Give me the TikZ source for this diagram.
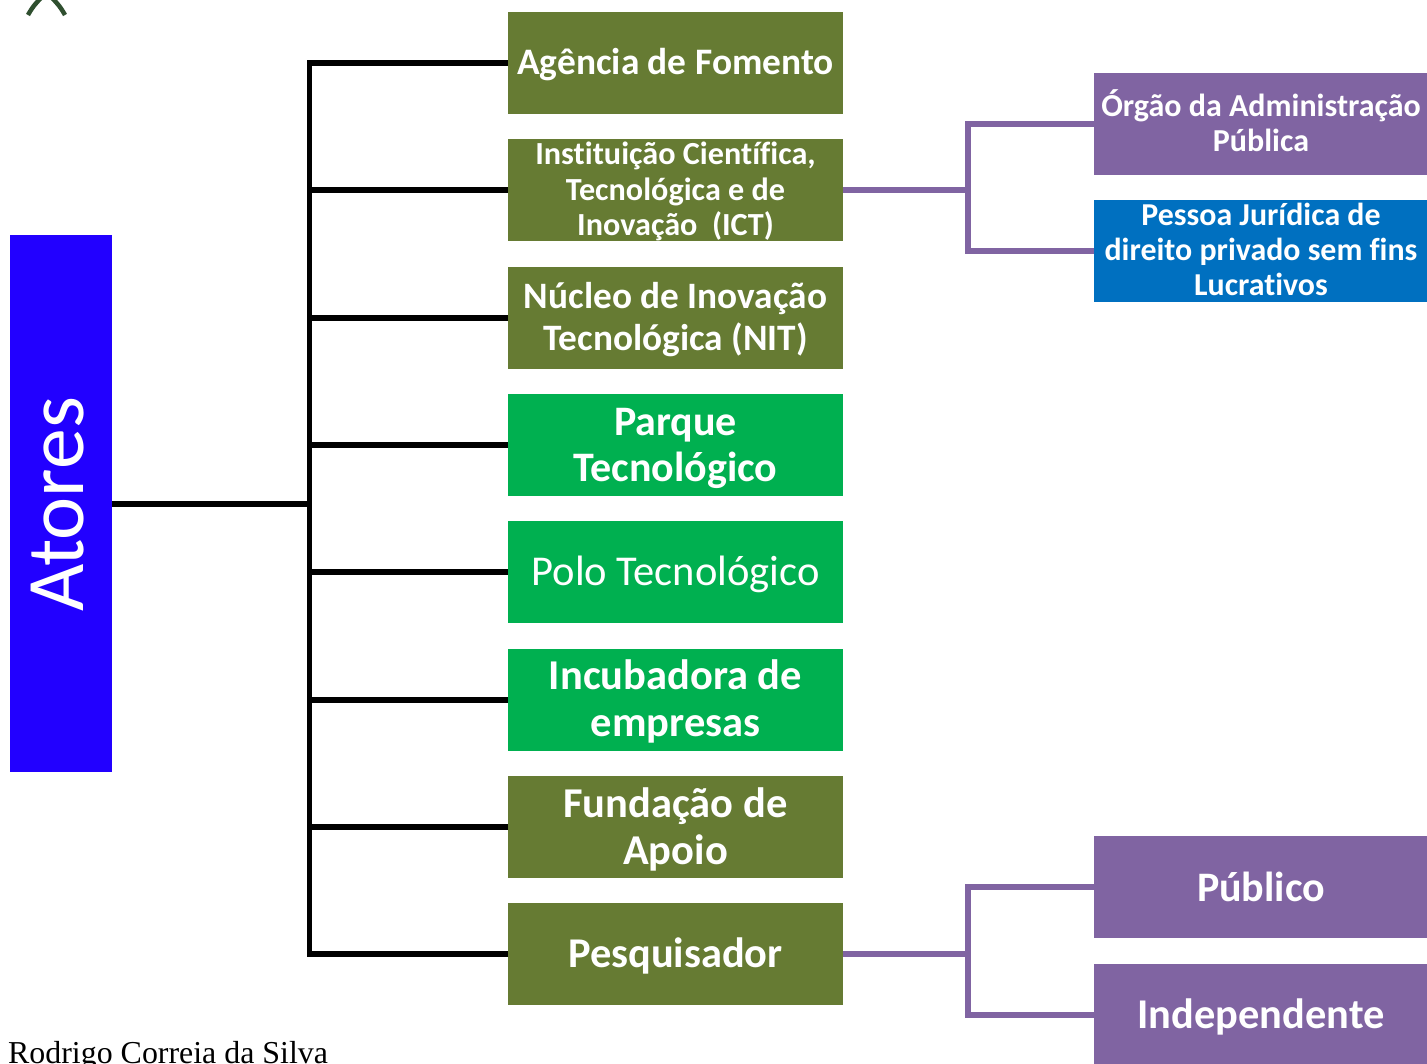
\documentclass[tikz,border=0pt]{standalone}
\usepackage{fontspec}
\setmainfont[Ligatures=NoCommon]{Carlito}
\newfontfamily\serifrm{Liberation Serif}
\definecolor{olivebox}{HTML}{667B33}
\definecolor{greenbox}{HTML}{00B050}
\definecolor{purplebox}{HTML}{8064A2}
\definecolor{bluebox}{HTML}{0070C0}
\definecolor{rootblue}{HTML}{2200FF}
\definecolor{logogreen}{HTML}{2F4F2F}
\newcommand{\fsz}[2]{\fontsize{#1pt}{#2pt}\selectfont}
% move a node's text down by #1: taller first line
\newcommand{\lowered}[2]{\setbox0\hbox{#2}\rule{0pt}{\dimexpr\ht0+#1pt*2\relax}#2}
% move a node's text up by #1: deeper last line
\newcommand{\raised}[2]{\setbox0\hbox{#2}\rule[-\dimexpr\dp0+#1pt*2\relax]{0pt}{1pt}#2}
\tikzset{
  x=1pt,y=-1pt,
  box/.style={inner sep=0pt,outer sep=0pt,text=white,align=center,minimum height=102pt},
  leftbox/.style={box,minimum width=335pt},
  rightbox/.style={box,minimum width=334pt},
  blackline/.style={line width=5.5pt,black},
  purpleline/.style={line width=5.5pt,purplebox},
}
\begin{document}
\begin{tikzpicture}
\path[use as bounding box,clip] (0,0) rectangle (1427,1063);
\fill[white] (0,0) rectangle (1427,1063);
% fragment of logo
\draw[logogreen,line width=4.5pt] (28,15) .. controls (33,6) and (37,2) .. (41,-2);
\draw[logogreen,line width=4.5pt] (65,15) .. controls (60,6) and (56,2) .. (52,-2);
% root
\node[inner sep=0pt,outer sep=0pt,fill=rootblue,minimum width=102pt,minimum height=537pt] (root) at (61,503.5) {};
\node[text=white,rotate=90,inner sep=0pt,font=\fsz{81.7}{90}] (roottext) at (58,504.5) {Atores};
% left column
\node[leftbox,fill=olivebox,font=\bfseries\fsz{37.4}{41}] (n1) at (675.5,63) {\lowered{2}{Agência de Fomento}};
\node[leftbox,fill=olivebox,font=\bfseries\fsz{32.2}{35.5}] (n2) at (675.5,190) {\lowered{1.5}{Instituição Científica,}\\Tecnológica e de\\Inovação ~(ICT)};
\node[leftbox,fill=olivebox,font=\bfseries\fsz{37.3}{41.5}] (n3) at (675.5,318) {\lowered{1.5}{Núcleo de Inovação}\\Tecnológica (NIT)};
\node[leftbox,fill=greenbox,font=\bfseries\fsz{42}{46}] (n4) at (675.5,445) {\lowered{3}{Parque}\\Tecnológico};
\node[leftbox,fill=greenbox,font=\fsz{42.5}{46}] (n5) at (675.5,572) {\lowered{2.5}{Polo Tecnológico}};
\node[leftbox,fill=greenbox,font=\bfseries\fsz{42.5}{47}] (n6) at (675.5,700) {\lowered{1}{Incubadora de}\\empresas};
\node[leftbox,fill=olivebox,font=\bfseries\fsz{42.5}{47}] (n7) at (675.5,827) {\lowered{2}{Fundação de}\\Apoio};
\node[leftbox,fill=olivebox,font=\bfseries\fsz{42.4}{46}] (n8) at (675.5,954) {\lowered{2}{Pesquisador}};
% right column
\node[rightbox,fill=purplebox,font=\bfseries\fsz{32}{35}] (r1) at (1261,124) {Órgão da Administração\\\raised{3}{Pública}};
\node[rightbox,fill=bluebox,font=\bfseries\fsz{31.9}{35}] (r2) at (1261,251) {Pessoa Jurídica de\\direito privado sem fins\\\raised{2}{Lucrativos}};
\node[rightbox,fill=purplebox,font=\bfseries\fsz{42}{46}] (r3) at (1261,887) {Público};
\node[rightbox,fill=purplebox,font=\bfseries\fsz{42.4}{46}] (r4) at (1261,1015) {\lowered{1.5}{Independente}};
% connectors
\coordinate (trunktop) at (309.5,63);
\coordinate (trunkbot) at (309.5,954);
\coordinate (rootout) at (112,504);
\coordinate (bustop) at (968,124);
\coordinate (busbot) at (968,251);
\coordinate (bus2top) at (968,887);
\coordinate (bus2bot) at (968,1015);
\draw[blackline,line cap=rect] (trunktop) -- (trunkbot);
\draw[blackline] (rootout) -- (rootout -| trunktop);
\foreach \n in {n1,n2,n3,n4,n5,n6,n7,n8}
  \draw[blackline] (\n.west) -- (\n.west -| trunktop);
\draw[purpleline] (r1.west) -- (bustop) -- (busbot) -- (r2.west);
\draw[purpleline] (n2.east) -- (n2.east -| bustop);
\draw[purpleline] (r3.west) -- (bus2top) -- (bus2bot) -- (r4.west);
\draw[purpleline] (n8.east) -- (n8.east -| bus2top);
% footer
\node[anchor=base west,inner sep=0pt,text=black,font=\serifrm\fsz{31.9}{34}] (credit) at (8,1063) {Rodrigo Correia da Silva};
\end{tikzpicture}
\end{document}
